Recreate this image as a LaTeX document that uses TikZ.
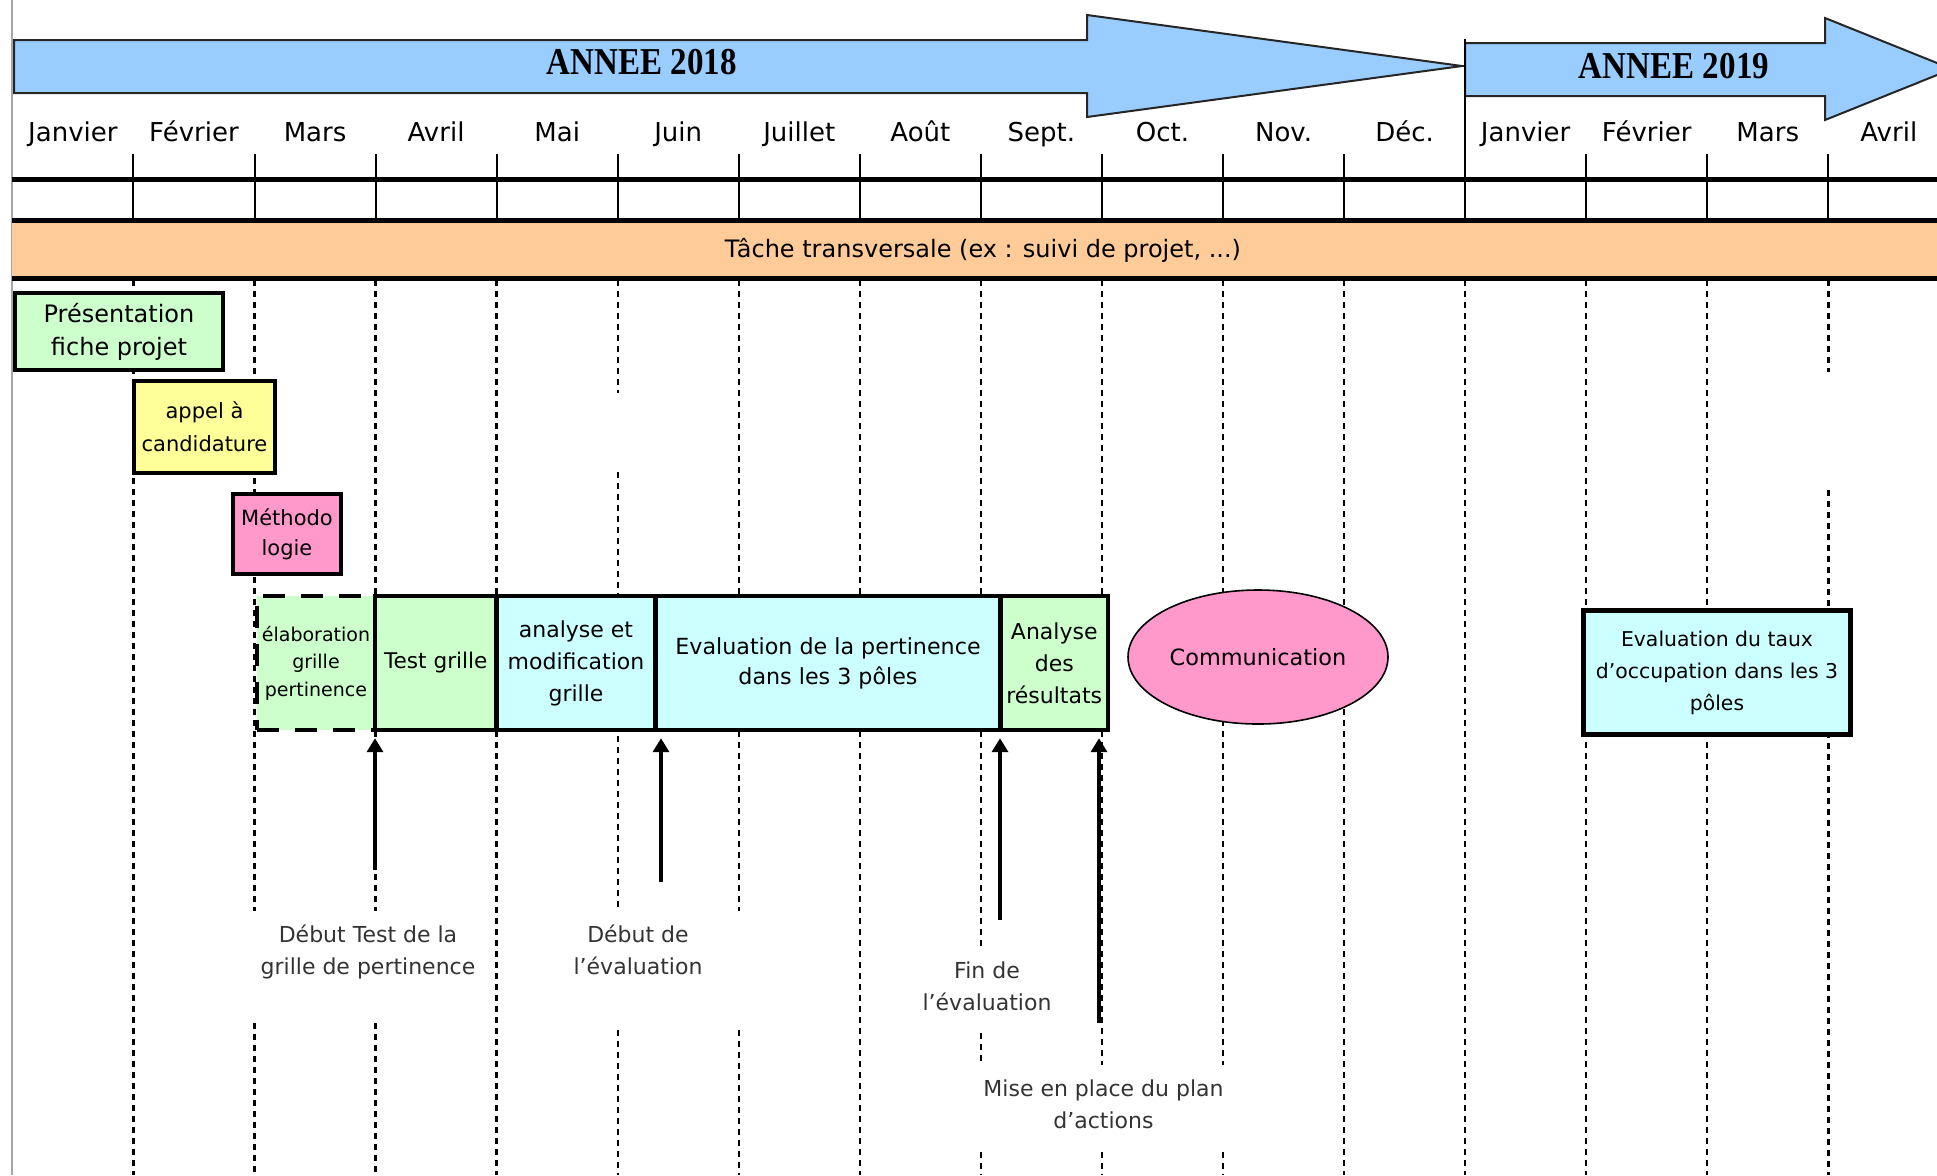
\documentclass[tikz,border=0pt]{standalone}
\usepackage{fontspec}
\setmainfont{DejaVu Sans}
\newfontfamily\yearfont{Liberation Serif}
\usetikzlibrary{arrows.meta,shapes.geometric}
\definecolor{blueA}{HTML}{99CCFF}
\definecolor{orangeA}{HTML}{FFCC99}
\definecolor{greenA}{HTML}{CCFFCC}
\definecolor{yellowA}{HTML}{FFFF99}
\definecolor{pinkA}{HTML}{FF99CC}
\definecolor{cyanA}{HTML}{CCFFFF}
\begin{document}
\begin{tikzpicture}[x=0.5pt,y=-0.5pt,
  box/.style={draw=black, line width=2.2pt, inner sep=0pt, align=center, font=\fontsize{11}{16}\selectfont},
  month/.style={font=\fontsize{13}{15}\selectfont, inner sep=0pt, anchor=base},
  lbl/.style={align=center, text=black!80, font=\fontsize{11}{16}\selectfont, inner sep=0pt},
  gridline/.style={line width=1.2pt, dash pattern=on 2.75pt off 2.75pt},
  tickline/.style={line width=1pt},
  hbar/.style={line width=2.5pt},
  milestone/.style={line width=2.4pt, -{Triangle[length=7pt,width=8pt]}, shorten >=3pt},
  yeararrow/.style={fill=blueA, draw=black!85, line width=1pt, line join=miter},
  yeartext/.style={font=\yearfont\bfseries\fontsize{19}{20}\selectfont, inner sep=0pt}
]
\useasboundingbox (0,0) rectangle (1937,1175);
\clip (0,0) rectangle (1937,1175);

% page border
\draw[gray!70, line width=1pt] (12,0) -- (12,1175);

% year arrows
\draw[yeararrow] (14,40) -- (1087,40) -- (1087,15) -- (1462,66) -- (1087,117) -- (1087,93) -- (14,93) -- cycle;
\draw[yeararrow] (1465,43) -- (1825,43) -- (1825,18) -- (1952,69) -- (1825,120) -- (1825,96) -- (1465,96) -- cycle;
\node[yeartext] (y18) at (642,62) {\scalebox{0.87}[1]{ANNEE 2018}};
\node[yeartext] (y19) at (1674,66) {\scalebox{0.87}[1]{ANNEE 2019}};

% months
\foreach \m [count=\i from 0] in {Janvier,Février,Mars,Avril,Mai,Juin,Juillet,Août,Sept.,Oct.,Nov.,Déc.,Janvier,Février,Mars,Avril}
  \node[month] (m\i) at ({12.4+121.06*(\i+0.5)},141) {\m};

% ticks
\foreach \k in {1,...,11,13,14,15}
  \draw[tickline] ({12.4+121.06*\k},154) -- ({12.4+121.06*\k},220);
\draw[tickline] (1465.1,39) -- (1465.1,220);

% horizontal bars and transversal band
\draw[hbar] (12,179) -- (1937,179);
\fill[orangeA] (12,220) rectangle (1937,278);
\draw[hbar] (12,220.5) -- (1937,220.5);
\draw[hbar] (12,278) -- (1937,278);
\node[font=\fontsize{12}{14}\selectfont, inner sep=0pt] (band) at (983,250) {Tâche transversale (ex : suivi de projet, ...)};

% dotted month lines
\foreach \x/\a/\b in {133.5/280/1175,
  254.5/280/911, 254.5/1023/1175,
  375.6/280/911, 375.6/1023/1175,
  496.6/280/1175,
  617.7/280/393, 617.7/472/911, 617.7/1030/1175,
  738.8/280/911, 738.8/1030/1175,
  859.8/280/1175,
  980.9/280/947, 980.9/1033/1065, 980.9/1152/1175,
  1101.9/280/1065, 1101.9/1152/1175,
  1223.0/280/1065, 1223.0/1152/1175,
  1344.1/280/1175, 1465.1/280/1175, 1586.2/280/1175, 1707.2/280/1175,
  1828.3/280/372, 1828.3/490/1175}
  \draw[gridline] (\x,\a) -- (\x,\b);

% task boxes
\node[box, fill=greenA, minimum width=104pt, minimum height=38.5pt, font=\fontsize{12}{16.5}\selectfont] (pres) at (119,331.5) {Présentation\\fiche projet};
\node[box, fill=yellowA, minimum width=70.5pt, minimum height=46pt, font=\fontsize{10.5}{16.5}\selectfont] (appel) at (204.5,427) {appel à\\candidature};
\node[box, fill=pinkA, minimum width=54pt, minimum height=40pt, font=\fontsize{10.5}{15}\selectfont] (metho) at (287,534) {Méthodo\\logie};
\node[box, fill=greenA, dash pattern=on 11pt off 8pt, minimum width=59pt, minimum height=67pt, font=\fontsize{9.5}{13.75}\selectfont] (elab) at (316,663) {élaboration\\grille\\pertinence};
\node[box, fill=greenA, minimum width=60.8pt, minimum height=67pt, font=\fontsize{10.8}{16}\selectfont] (test) at (435.8,663) {Test grille};
\node[box, fill=cyanA, minimum width=79.45pt, minimum height=67pt] (anmod) at (576,663) {analyse et\\modification\\grille};
\node[box, fill=cyanA, minimum width=172.5pt, minimum height=67pt, font=\fontsize{11.1}{15}\selectfont] (evalp) at (828,663) {Evaluation de la pertinence\\dans les 3 pôles};
\node[box, fill=greenA, minimum width=53.75pt, minimum height=67pt] (anres) at (1054.25,663) {Analyse\\des\\résultats};
\node[ellipse, draw=black, fill=pinkA, line width=0.8pt, minimum width=130pt, minimum height=67pt, inner sep=0pt, font=\fontsize{11.2}{14}\selectfont] (comm) at (1258,657) {Communication};
\node[box, fill=cyanA, minimum width=133.5pt, minimum height=62pt, font=\fontsize{10.2}{16}\selectfont] (occ) at (1717,672.5) {Evaluation du taux\\d'occupation dans les 3\\pôles};

% milestone arrows
\coordinate (a1) at (375,870);
\coordinate (a2) at (661,882);
\coordinate (a3) at (1000,920);
\coordinate (a4) at (1099,1023);
\draw[milestone] (a1) -- (a1 |- test.south);
\draw[milestone] (a2) -- (a2 |- evalp.south);
\draw[milestone] (a3) -- (a3 |- anres.south);
\draw[milestone] (a4) -- (a4 |- anres.south);

% milestone labels
\node[lbl] (l1) at (368,951.5) {Début Test de la\\grille de pertinence};
\node[lbl] (l2) at (638,950) {Début de\\l'évaluation};
\node[lbl] (l3) at (987,986.5) {Fin de\\l'évaluation};
\node[lbl] (l4) at (1103.5,1104) {Mise en place du plan\\d'actions};
\end{tikzpicture}
\end{document}
